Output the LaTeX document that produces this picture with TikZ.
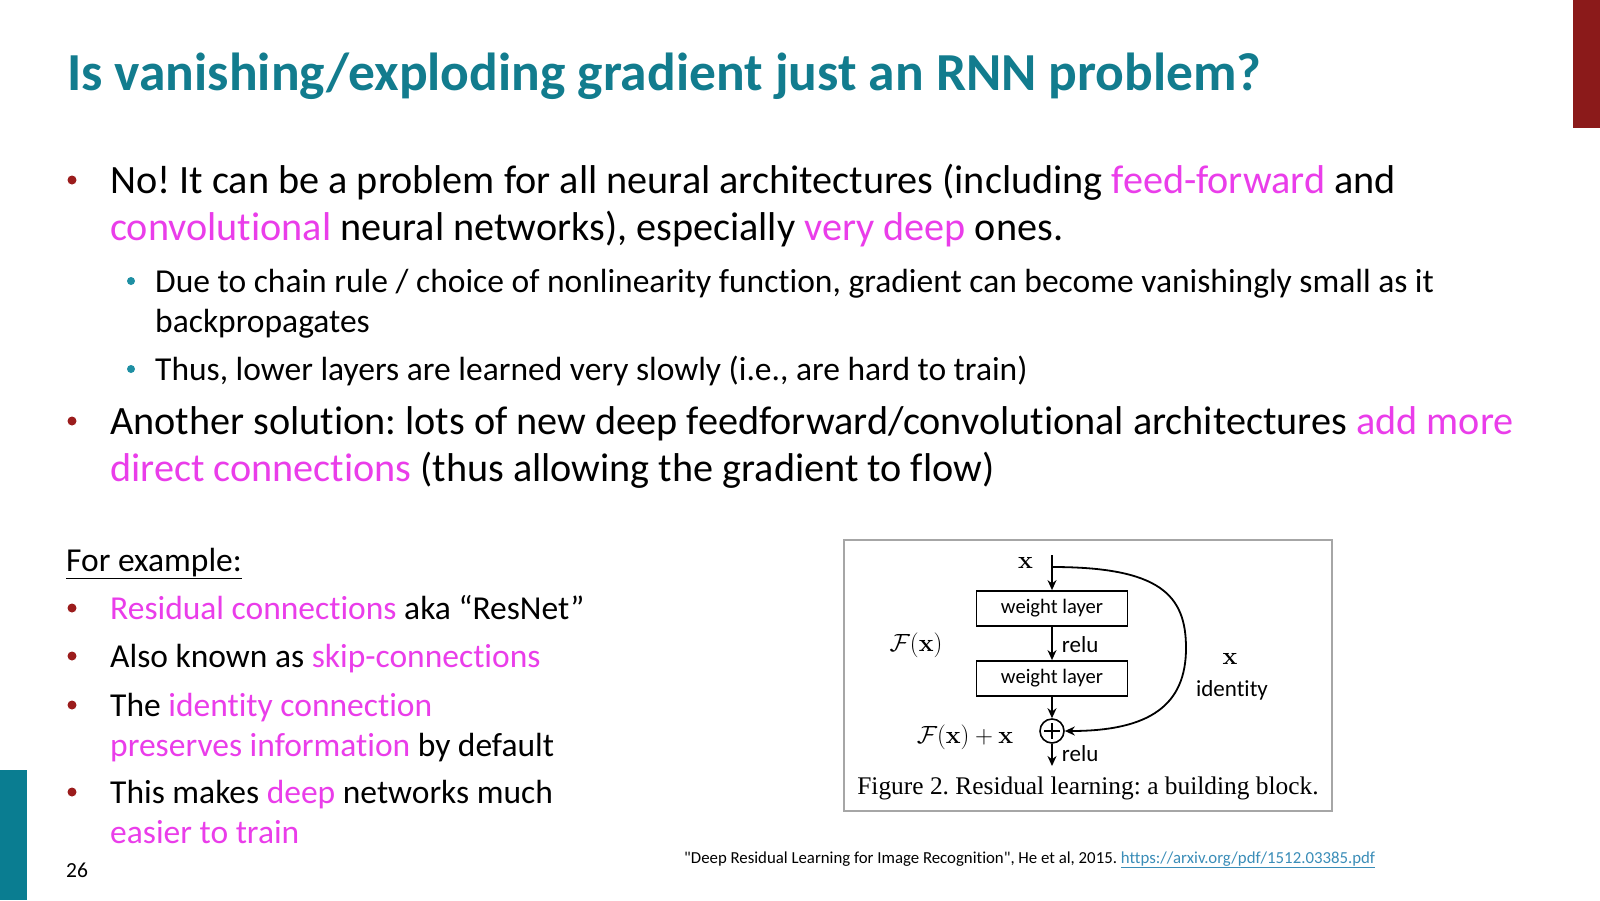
\documentclass[tikz,border=0pt]{standalone}
\usepackage[no-math]{fontspec}
\setmainfont{Carlito}[Ligatures={NoCommon,TeXOff}]
\newfontfamily\capfont{Liberation Serif}
\usetikzlibrary{positioning,arrows.meta}
\definecolor{titleteal}{HTML}{127C8E}
\definecolor{barred}{HTML}{8B1A1A}
\definecolor{barteal}{HTML}{0A7D91}
\definecolor{hlpink}{HTML}{EA3DEA}
\definecolor{dotred}{HTML}{9B1C1C}
\definecolor{dotteal}{HTML}{1E8FA3}
\definecolor{linkblue}{HTML}{3A8DB8}
\newcommand{\hl}[1]{\textcolor{hlpink}{#1}}
\frenchspacing
\tikzset{
  txt/.style={anchor=base west,inner sep=0pt},
  big/.style={txt,font=\fontsize{40.2}{47}\selectfont},
  mid/.style={txt,font=\fontsize{33.5}{39}\selectfont},
  reddot/.style={circle,fill=dotred,inner sep=0pt,minimum size=9},
  tealdot/.style={circle,fill=dotteal,inner sep=0pt,minimum size=8},
  wlayer/.style={draw,line width=1.8pt,minimum width=151,minimum height=35,inner sep=0pt,font=\fontsize{20.6}{24}\selectfont},
  lbl/.style={inner sep=0pt,font=\fontsize{23}{27}\selectfont},
  mth/.style={inner sep=0pt,font=\fontsize{25}{30}\selectfont},
  link/.style={line width=1.8pt,->}
}
\begin{document}
\begin{tikzpicture}[x=1pt,y=-1pt,>={Stealth[length=10pt,width=9pt]}]
\useasboundingbox[fill=white] (0,0) rectangle (1600,900);
% side bars
\fill[barred] (1573,0) rectangle (1600,128);
\fill[barteal] (0,770) rectangle (27,900);
% title
\node[txt,font=\fontsize{53.5}{60}\selectfont\bfseries,text=titleteal] (title) at (67,90) {Is vanishing/exploding gradient just an RNN problem?};
% first bullet
\node[reddot] (b1) at (72,180) {};
\node[big] (b1a) at (110,193) {No! It can be a problem for all neural architectures (including \hl{feed-forward} and};
\node[big] (b1b) at (110,240) {\hl{convolutional} neural networks), especially \hl{very deep} ones.};
\node[tealdot] (s1) at (131,281) {};
\node[mid] (s1a) at (155,292) {Due to chain rule / choice of nonlinearity function, gradient can become vanishingly small as it};
\node[mid] (s1b) at (155,332) {backpropagates};
\node[tealdot] (s2) at (131,369) {};
\node[mid] (s2a) at (155,380) {Thus, lower layers are learned very slowly (i.e., are hard to train)};
% second bullet
\node[reddot] (b2) at (72,421) {};
\node[big] (b2a) at (110,434) {Another solution: lots of new deep feedforward/convolutional architectures \hl{add more}};
\node[big] (b2b) at (110,481) {\hl{direct connections} (thus allowing the gradient to flow)};
% examples
\node[mid] (ex) at (66,571) {\underline{For example:}};
\node[reddot] (e1) at (72,608) {};
\node[mid] (e1a) at (110,619) {\hl{Residual connections} aka “ResNet”};
\node[reddot] (e2) at (72,656) {};
\node[mid] (e2a) at (110,667) {Also known as \hl{skip-connections}};
\node[reddot] (e3) at (72,705) {};
\node[mid] (e3a) at (110,716) {The \hl{identity connection}};
\node[mid] (e3b) at (110,756) {\hl{preserves information} by default};
\node[reddot] (e4) at (72,792) {};
\node[mid] (e4a) at (110,803) {This makes \hl{deep} networks much};
\node[mid] (e4b) at (110,843) {\hl{easier to train}};
\node[txt,font=\fontsize{21.5}{24}\selectfont] (pg) at (66,877) {26};
% citation
\node[txt,font=\fontsize{16.8}{19}\selectfont] (cite) at (684,863) {"Deep Residual Learning for Image Recognition", He et al, 2015. \textcolor{linkblue}{\underline{https://arxiv.org/pdf/1512.03385.pdf}}};
% residual block figure
\draw[gray!70,line width=1.5pt] (844,540) rectangle (1332,811);
\coordinate (xin) at (1052,555);
\coordinate (split) at (1052,567);
\node[wlayer] (w1) at (1052,608.5) {weight layer};
\node[wlayer] (w2) at (1052,678.5) {weight layer};
\node[draw,line width=1.6pt,circle,minimum size=24,inner sep=0pt] (plus) at (1052,731) {};
\draw[line width=1.6pt] ([yshift=-8]plus.center) -- ([yshift=8]plus.center)
  ([xshift=-8]plus.center) -- ([xshift=8]plus.center);
\coordinate (yout) at (1052,766);
\draw[link] (xin) -- (w1);
\draw[link] (w1) -- (w2) node[midway,right=9pt,lbl,yshift=-1pt] {relu};
\draw[link] (w2) -- (plus);
\draw[link] (plus) -- (yout) node[midway,right=9pt,lbl,yshift=1pt] {relu};
\draw[link] (split) .. controls (1160,567) and (1186,595) .. (1186,648)
  .. controls (1186,705) and (1150,731) .. (plus.east);
\node[mth,anchor=east] (xtop) at (1033,563) {$\mathbf{x}$};
\node[mth] (fx) at (916,645) {$\mathcal{F}(\mathbf{x})$};
\node[mth] (fxx) at (965,737) {$\mathcal{F}(\mathbf{x})+\mathbf{x}$};
\node[mth] (xid) at (1230,659) {$\mathbf{x}$};
\node[lbl] (idt) at (1232,690) {identity};
\node[inner sep=0pt,font=\capfont\fontsize{25.4}{28}\selectfont] (cap) at (1088,788) {Figure 2. Residual learning: a building block.};
\end{tikzpicture}
\end{document}
